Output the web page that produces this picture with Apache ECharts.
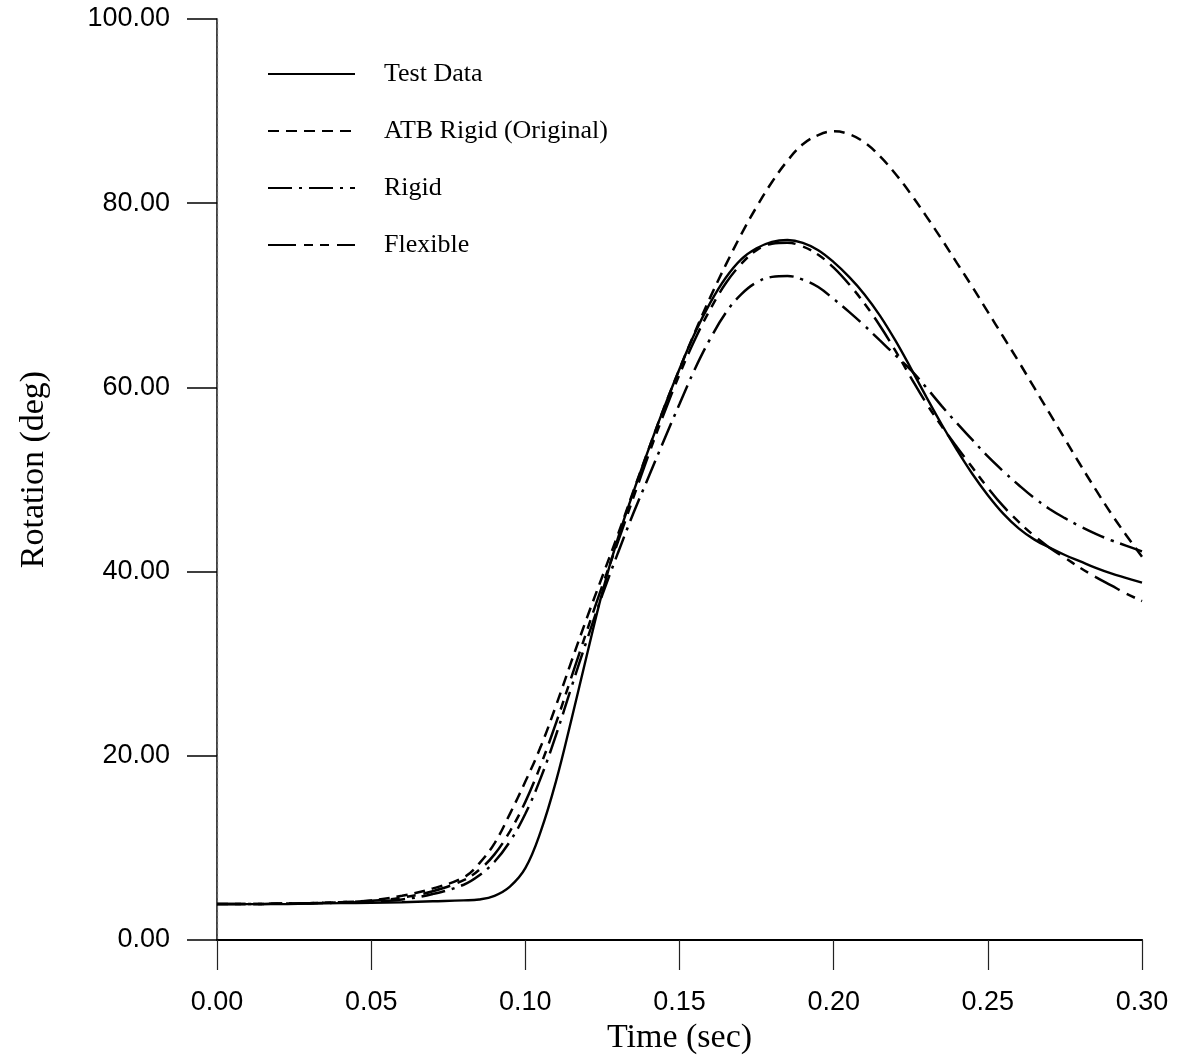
<!DOCTYPE html>
<html>
<head>
<meta charset="utf-8">
<script src="https://cdn.jsdelivr.net/npm/echarts@6/dist/echarts.min.js"></script>
<style>
html,body{margin:0;padding:0;background:#fff;}
#chart{width:1178px;height:1062px;}
</style>
</head>
<body>
<div id="chart"></div>
<script>
const timeSec = [0, 0.01, 0.02, 0.03, 0.04, 0.05, 0.06, 0.07, 0.08, 0.085, 0.09, 0.095, 0.10, 0.105, 0.11, 0.115, 0.12, 0.125, 0.13, 0.135, 0.14, 0.145, 0.15, 0.155, 0.16, 0.165, 0.17, 0.175, 0.18, 0.185, 0.19, 0.195, 0.20, 0.205, 0.21, 0.215, 0.22, 0.225, 0.23, 0.235, 0.24, 0.245, 0.25, 0.255, 0.26, 0.265, 0.27, 0.275, 0.28, 0.285, 0.29, 0.295, 0.30];

const testData = [3.9, 3.9, 3.9, 3.95, 4.0, 4.05, 4.1, 4.2, 4.3, 4.4, 4.8, 5.8, 7.8, 11.8, 17.3, 24.0, 31.0, 37.8, 43.6, 48.6, 53.3, 57.8, 62.0, 65.9, 69.2, 71.9, 73.9, 75.1, 75.8, 76.0, 75.7, 74.9, 73.6, 72.0, 70.1, 67.8, 65.1, 62.1, 59.0, 56.0, 53.2, 50.6, 48.3, 46.3, 44.7, 43.5, 42.6, 41.8, 41.1, 40.4, 39.8, 39.3, 38.8];

const atbRigidOriginal = [3.9, 3.9, 3.95, 4.0, 4.1, 4.3, 4.8, 5.6, 6.8, 8.3, 10.5, 13.7, 17.2, 21.0, 25.5, 30.3, 35.0, 39.5, 44.0, 48.7, 53.3, 57.8, 62.0, 66.0, 69.8, 73.3, 76.6, 79.6, 82.3, 84.6, 86.4, 87.4, 87.8, 87.5, 86.6, 85.1, 83.2, 81.0, 78.6, 76.1, 73.5, 70.9, 68.2, 65.5, 62.8, 60.0, 57.2, 54.4, 51.6, 48.9, 46.3, 43.9, 41.6];

const rigid = [3.9, 3.9, 3.95, 4.0, 4.05, 4.15, 4.4, 5.0, 6.0, 7.0, 8.5, 10.7, 13.7, 17.6, 22.3, 27.5, 32.6, 37.5, 42.0, 46.3, 50.3, 54.3, 58.2, 62.0, 65.3, 68.1, 70.1, 71.4, 72.0, 72.1, 71.7, 70.9, 69.6, 68.2, 66.7, 65.1, 63.5, 61.9, 60.0, 58.0, 56.1, 54.3, 52.5, 50.9, 49.4, 48.0, 46.8, 45.8, 44.9, 44.1, 43.4, 42.8, 42.2];

const flexible = [3.9, 3.9, 3.95, 4.0, 4.1, 4.25, 4.6, 5.3, 6.5, 7.6, 9.3, 11.8, 15.0, 19.0, 23.6, 28.6, 33.6, 38.5, 43.2, 48.0, 52.7, 57.2, 61.4, 65.2, 68.5, 71.3, 73.4, 74.9, 75.6, 75.7, 75.3, 74.4, 73.0, 71.2, 69.1, 66.7, 64.0, 61.1, 58.3, 55.8, 53.5, 51.3, 49.1, 47.1, 45.4, 43.9, 42.6, 41.5, 40.4, 39.4, 38.5, 37.6, 36.8];

const seriesNames = ['Test Data', 'ATB Rigid (Original)', 'Rigid', 'Flexible'];
const xTicks = [0, 0.05, 0.10, 0.15, 0.20, 0.25, 0.30];
const yTicks = [0, 20, 40, 60, 80, 100];

const zip = vals => timeSec.map((t, i) => [t, vals[i]]);

const sans = 'Liberation Sans, Arial, Helvetica, sans-serif';
const serif = 'Liberation Serif, Times New Roman, serif';

const chart = echarts.init(document.getElementById('chart'), null, {renderer: 'canvas'});

const lineBase = {type: 'line', showSymbol: false, symbol: 'none', smooth: 0.4, xAxisIndex: 0, yAxisIndex: 0, z: 5};

chart.setOption({
  animation: false,
  backgroundColor: '#ffffff',
  grid: {left: 217, top: 19, right: 36, bottom: 122, containLabel: false},
  legend: {
    orient: 'vertical',
    left: 267,
    top: 61,
    padding: 0,
    itemWidth: 87,
    itemHeight: 14,
    itemGap: 31,
    data: seriesNames,
    itemStyle: {opacity: 0},
    textStyle: {fontFamily: serif, fontSize: 26, color: '#000', padding: [0, 0, 0, 24]},
    selectedMode: false
  },
  xAxis: [{
    type: 'value',
    min: xTicks[0],
    max: xTicks[xTicks.length - 1],
    interval: 0.05,
    name: 'Time (sec)',
    nameLocation: 'middle',
    nameGap: 80,
    nameTextStyle: {fontFamily: serif, fontSize: 34, color: '#000'},
    axisLine: {show: true, onZero: false, lineStyle: {color: '#000', width: 2}},
    axisTick: {show: true, inside: false, length: 30, lineStyle: {color: '#222', width: 1.2}},
    axisLabel: {margin: 49, fontFamily: sans, fontSize: 27, color: '#000', formatter: v => v.toFixed(2)},
    splitLine: {show: false}
  }, {
    type: 'value', position: 'top', min: 0, max: 0.3,
    axisLine: {show: true, lineStyle: {color: '#000', width: 1.5}},
    axisTick: {show: false}, axisLabel: {show: false}, splitLine: {show: false}
  }],
  yAxis: [{
    type: 'value',
    min: yTicks[0],
    max: yTicks[yTicks.length - 1],
    interval: 20,
    name: 'Rotation (deg)',
    nameLocation: 'middle',
    nameGap: 166,
    nameRotate: 90,
    nameTextStyle: {fontFamily: serif, fontSize: 34, color: '#000', padding: [0, 0, 0, 20]},
    axisLine: {show: true, onZero: false, lineStyle: {color: '#000', width: 1.5}},
    axisTick: {show: true, inside: false, length: 30, lineStyle: {color: '#000', width: 1.5}},
    axisLabel: {margin: 47, fontFamily: sans, fontSize: 27, color: '#000', formatter: v => v.toFixed(2)},
    splitLine: {show: false}
  }, {
    type: 'value', position: 'right', min: 0, max: 100,
    axisLine: {show: true, lineStyle: {color: '#666', width: 1.2, type: [4, 2]}},
    axisTick: {show: false}, axisLabel: {show: false}, splitLine: {show: false}
  }],
  series: [
    Object.assign({}, lineBase, {name: seriesNames[0], data: zip(testData),
      lineStyle: {color: '#000', width: 2.4, type: 'solid'}, itemStyle: {color: '#000'}}),
    Object.assign({}, lineBase, {name: seriesNames[1], data: zip(atbRigidOriginal),
      lineStyle: {color: '#000', width: 2.5, type: [11, 7]}, itemStyle: {color: '#000'}}),
    Object.assign({}, lineBase, {name: seriesNames[2], data: zip(rigid),
      lineStyle: {color: '#000', width: 2.5, type: [24, 7, 3, 7]}, itemStyle: {color: '#000'}}),
    Object.assign({}, lineBase, {name: seriesNames[3], data: zip(flexible),
      lineStyle: {color: '#000', width: 2.5, type: [28, 8, 9, 7, 9, 8]}, itemStyle: {color: '#000'}})
  ]
});
</script>
</body>
</html>
